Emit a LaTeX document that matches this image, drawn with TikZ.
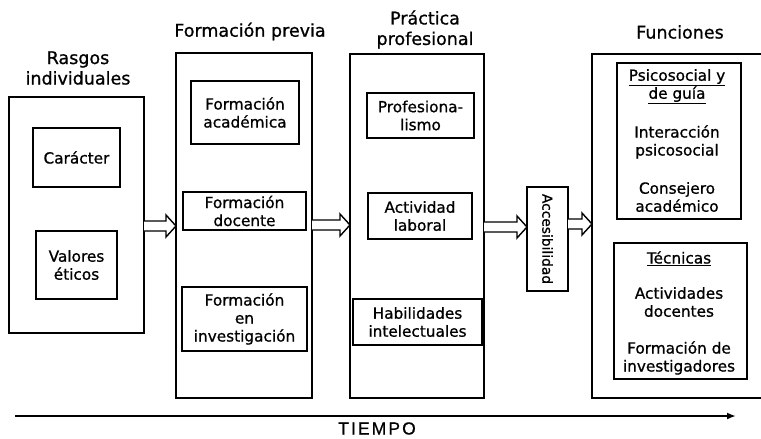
\documentclass[tikz,border=0pt]{standalone}
\usepackage{fontspec}
\setmainfont[FakeBold=0.9]{DejaVu Sans}
\newfontfamily\timefont[LetterSpace=12,FakeBold=0.6]{Liberation Sans}
\usetikzlibrary{calc,arrows.meta}
\newcommand\innerfont{\fontsize{15.3}{18}\selectfont}
\newcommand\titlefont{\fontsize{17.5}{20.5}\selectfont}
\newcommand\blockarr[3]{%
  \draw[blockline] let \p1=(#1.east), \p2=(#2.west), \p3=(#3) in
   (\x1,\y3+5pt) -- (\x2-10pt,\y3+5pt) -- (\x2-10pt,\y3+11pt) -- (\x2,\y3)
   -- (\x2-10pt,\y3-11pt) -- (\x2-10pt,\y3-5pt) -- (\x1,\y3-5pt);}
\tikzset{
  bigbox/.style={draw, line width=1.4pt, inner sep=0pt, outer sep=0pt},
  smallbox/.style={draw, line width=1.4pt, inner sep=0pt, outer sep=0pt, align=center, font=\innerfont},
  plain/.style={inner sep=0pt, outer sep=0pt, align=center, font=\innerfont},
  title/.style={inner sep=0pt, outer sep=0pt, align=center, font=\titlefont},
  blockline/.style={line width=1.4pt, fill=white, line join=miter},
  timeline/.style={line width=1.8pt, -{Latex[length=9pt,width=7pt]}}
}
\begin{document}
\begin{tikzpicture}[x=1pt,y=-1pt]
\useasboundingbox (0,0) rectangle (761,439);

% titles
\node[title] (tR) at (78,68) {Rasgos\\individuales};
\node[title] (tF) at (250,31.5) {Formación previa};
\node[title] (tP) at (425,29.5) {Práctica\\profesional};
\node[title] (tFn) at (680,32) {Funciones};

% outer boxes
\node[bigbox, minimum width=135pt, minimum height=236pt] (R) at (76.5,215) {};
\node[bigbox, minimum width=136pt, minimum height=345pt] (F) at (244,225.5) {};
\node[bigbox, minimum width=134pt, minimum height=344pt] (P) at (417,226) {};
\node[inner sep=0pt, outer sep=0pt, minimum width=169pt, minimum height=344pt] (Fn) at (676.5,226) {};
\draw[line width=1.4pt] (Fn.north east) -- (Fn.north west) -- (Fn.south west) -- (Fn.south east);

% inner boxes
\node[smallbox, minimum width=87pt, minimum height=59pt] (car) at (76.5,157.5) {Carácter};
\node[smallbox, minimum width=81pt, minimum height=68pt] (val) at (76.5,265) {Valores\\éticos};
\node[smallbox, minimum width=108pt, minimum height=63pt] (fac) at (245,112.5) {Formación\\académica};
\node[smallbox, minimum width=123pt, minimum height=38pt] (fdo) at (244.5,211) {Formación\\docente};
\node[smallbox, minimum width=125pt, minimum height=64pt] (fin) at (244.5,319) {Formación\\en\\investigación};
\node[smallbox, minimum width=107pt, minimum height=45pt] (pro) at (420.5,115.5) {Profesiona-\\lismo};
\node[smallbox, minimum width=104pt, minimum height=46pt] (act) at (420,216) {Actividad\\laboral};
\node[smallbox, minimum width=129pt, minimum height=46pt] (hab) at (417.5,322) {Habilidades\\intelectuales};
\node[draw, line width=1.4pt, inner sep=0pt, outer sep=0pt, minimum width=41pt, minimum height=104pt] (acc) at (547.5,239) {};
\node[plain, rotate=-90, font=\fontsize{13.8}{16}\selectfont] (acct) at (acc.center) {Accesibilidad};
\node[smallbox, minimum width=124pt, minimum height=156pt] (psi) at (679,141) {};
\node[smallbox, minimum width=133pt, minimum height=136pt] (tec) at (680.5,311) {};

% texts in Funciones boxes
\node[plain] (psiA) at (677,86.5) {\underline{Psicosocial y}\\\underline{de guía}};
\node[plain] (psiB) at (677,142) {Interacción\\psicosocial};
\node[plain] (psiC) at (677,197) {Consejero\\académico};
\node[plain] (tecA) at (679,258.5) {\underline{Técnicas}};
\node[plain] (tecB) at (679,302) {Actividades\\docentes};
\node[plain] (tecC) at (679,358) {Formación de\\investigadores};

% block arrows
\coordinate (y1) at (160,226);
\coordinate (y2) at (330,225);
\coordinate (y3) at (505,227);
\coordinate (y4) at (580,224);
\blockarr{R}{F}{y1}
\blockarr{F}{P}{y2}
\blockarr{P}{acc}{y3}
\blockarr{acc}{Fn}{y4}

% time line
\coordinate (t0) at (15,416);
\coordinate (t1) at (736,416);
\draw[timeline] (t0) -- (t1);
\node[inner sep=0pt, anchor=base, font=\timefont\fontsize{17.5}{20}\selectfont] (tiempo) at (377,434.5) {TIEMPO};
\end{tikzpicture}
\end{document}
